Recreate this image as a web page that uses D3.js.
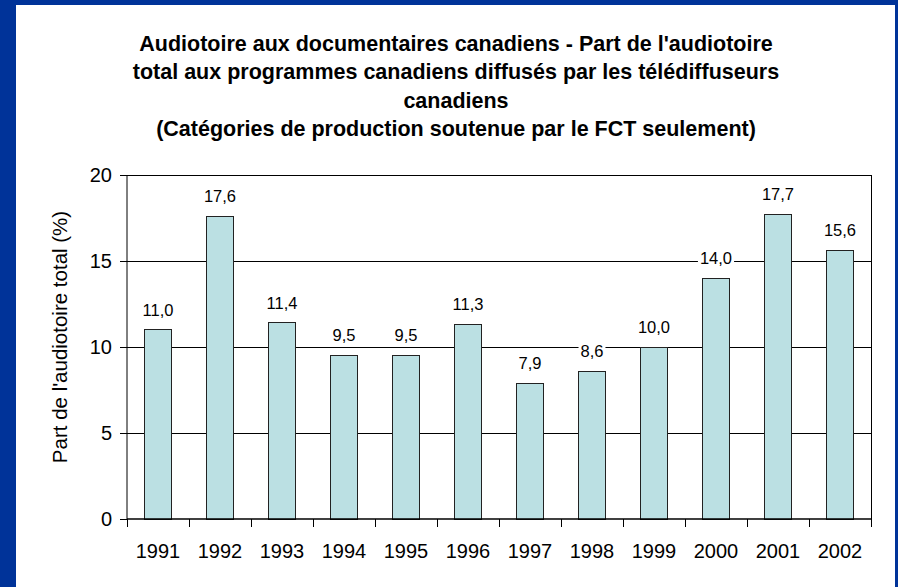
<!DOCTYPE html>
<html>
<head>
<meta charset="utf-8">
<script src="https://cdn.jsdelivr.net/npm/d3@7"></script>
<style>
  html, body { margin: 0; padding: 0; background: #fff; }
  svg { display: block; }
  text { font-family: "Liberation Sans", Arial, sans-serif; fill: #000; }
</style>
</head>
<body>
<svg id="chart" width="898" height="587"></svg>
<script>
// ---- data ----
const years = ["1991","1992","1993","1994","1995","1996","1997","1998","1999","2000","2001","2002"];
const shares = [11.0, 17.6, 11.4, 9.5, 9.5, 11.3, 7.9, 8.6, 10.0, 14.0, 17.7, 15.6];
const yTicks = [0, 5, 10, 15, 20];
const titleLines = [
  "Audiotoire aux documentaires canadiens - Part de l'audiotoire",
  "total aux programmes canadiens diffusés par les télédiffuseurs",
  "canadiens",
  "(Catégories de production soutenue par le FCT seulement)"
];
const yAxisTitle = "Part de l'audiotoire total (%)";

// ---- layout ----
const W = 898, H = 587;
const plot = { left: 127, right: 871, top: 175, bottom: 519 };
const svg = d3.select("#chart");

svg.append("rect").attr("x", 0).attr("y", 0).attr("width", W).attr("height", H).attr("fill", "#003399");
svg.append("rect").attr("x", 16).attr("y", 5).attr("width", 879).attr("height", H - 5).attr("fill", "#ffffff");

const x = d3.scaleBand().domain(years).range([plot.left, plot.right]).paddingInner(0.58).paddingOuter(0.29);
const xEdges = d3.scaleLinear().domain([0, years.length]).range([plot.left, plot.right]);
const y = d3.scaleLinear().domain([0, 20]).range([plot.bottom, plot.top]);

// title
const title = svg.append("text").attr("text-anchor", "middle")
  .style("font-weight", "bold").style("font-size", "21.5px");
titleLines.forEach((t, i) => {
  title.append("tspan").attr("x", 456).attr("y", 51 + i * 28.3).text(t);
});

// gridlines
svg.append("g").selectAll("line").data(yTicks.filter(d => d > 0)).join("line")
  .attr("x1", plot.left).attr("x2", plot.right)
  .attr("y1", d => y(d)).attr("y2", d => y(d))
  .attr("stroke", "#000").attr("stroke-width", 1).attr("shape-rendering", "crispEdges");

// right border of plot area
svg.append("line").attr("x1", plot.right).attr("x2", plot.right)
  .attr("y1", plot.top).attr("y2", plot.bottom)
  .attr("stroke", "#000").attr("shape-rendering", "crispEdges");

// bars
svg.append("g").selectAll("rect").data(years).join("rect")
  .attr("x", d => x(d))
  .attr("width", x.bandwidth())
  .attr("y", (d, i) => y(shares[i]))
  .attr("height", (d, i) => y(0) - y(shares[i]))
  .attr("fill", "#BBE0E3")
  .attr("stroke", "#222")
  .attr("stroke-width", 1)
  .attr("shape-rendering", "crispEdges");

// value labels with white backing
const fmt = v => d3.format(".1f")(v).replace(".", ",");
const lab = svg.append("g").selectAll("g").data(years).join("g")
  .attr("transform", (d, i) => `translate(${x(d) + x.bandwidth() / 2},${y(shares[i]) - 20})`);
lab.append("text").attr("text-anchor", "middle").attr("dy", "0.35em")
  .style("font-size", "16.5px")
  .text((d, i) => fmt(shares[i]));
lab.each(function() {
  const g = d3.select(this);
  const bb = g.select("text").node().getBBox();
  g.insert("rect", "text").attr("x", bb.x - 2).attr("y", bb.y).attr("width", bb.width + 4).attr("height", bb.height).attr("fill", "#fff");
});

// y axis
const yAxis = svg.append("g").attr("transform", `translate(${plot.left},0)`)
  .call(d3.axisLeft(y).tickValues(yTicks).tickSize(7).tickPadding(8).tickFormat(d3.format("d")));
yAxis.select(".domain").attr("stroke", "#000").attr("d", `M0,${plot.top}V${plot.bottom}`);
yAxis.selectAll(".tick line").attr("stroke", "#000");
yAxis.selectAll("text").style("font-size", "20px").attr("font-family", null);

// x axis: tick marks at category edges
const xTickAxis = svg.append("g").attr("transform", `translate(0,${plot.bottom})`)
  .call(d3.axisBottom(xEdges).tickValues(d3.range(0, years.length + 1)).tickSize(8).tickFormat(""));
xTickAxis.select(".domain").attr("stroke", "#000").attr("stroke-width", 1.5).attr("d", `M${plot.left},0H${plot.right}`);
xTickAxis.selectAll(".tick line").attr("stroke", "#000");

// x axis labels
const xLab = svg.append("g").attr("transform", `translate(0,${plot.bottom})`)
  .call(d3.axisBottom(x).tickSize(0).tickPadding(25));
xLab.select(".domain").remove();
xLab.selectAll("text").style("font-size", "20px").attr("font-family", null);

// y axis title
svg.append("text")
  .attr("transform", `translate(67,${(plot.top + plot.bottom) / 2 - 10}) rotate(-90)`)
  .attr("text-anchor", "middle")
  .style("font-size", "20.5px")
  .text(yAxisTitle);
</script>
</body>
</html>
